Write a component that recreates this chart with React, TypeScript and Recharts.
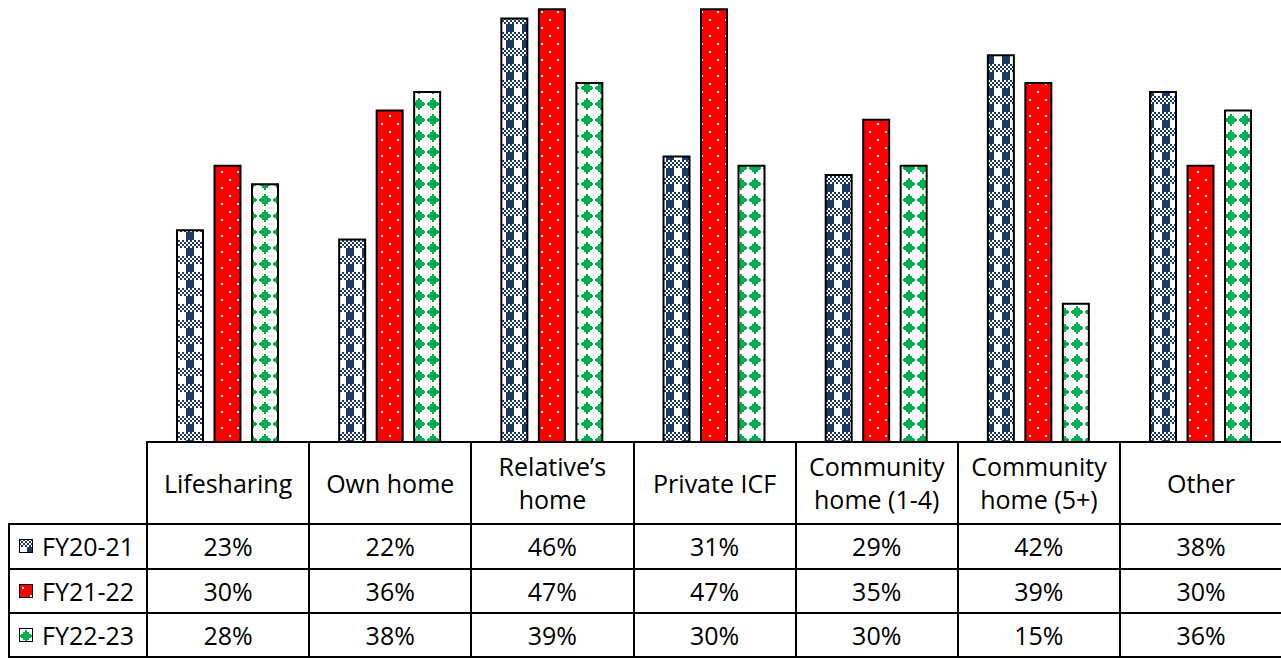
import React from 'react';
import { BarChart, Bar, XAxis, YAxis } from 'recharts';

// Residential setting categories and the share of each fiscal year
const categories = [
  'Lifesharing',
  'Own home',
  'Relative’s home',
  'Private ICF',
  'Community home (1-4)',
  'Community home (5+)',
  'Other',
];
const seriesNames = ['FY20-21', 'FY21-22', 'FY22-23'];
const fy2021 = [23, 22, 46, 31, 29, 42, 38];
const fy2122 = [30, 36, 47, 47, 35, 39, 30];
const fy2223 = [28, 38, 39, 30, 30, 15, 36];

const seriesValues = [fy2021, fy2122, fy2223];
const seriesKeys = ['fy2021', 'fy2122', 'fy2223'];
const patternIds = ['plaidNavy', 'dotsRed', 'diamondGreen'];

const NAVY = '#1F3864';
const RED = '#FF0000';
const GREEN = '#00B050';
const FONT = '"Open Sans", "Noto Sans", sans-serif';
const FONT_SIZE = 25;

const data = categories.map((category, i) => {
  const row: Record<string, string | number> = { category };
  seriesKeys.forEach((key, s) => {
    row[key] = seriesValues[s][i];
  });
  return row;
});

// table geometry
const TABLE_LEFT = 147;
const COL_W = 162.17;
const RIGHT = 1281;
const LABEL_LEFT = 9;
const HEADER_TOP = 442;
const HEADER_H = 82;
const ROW_H = 44.5;
const CHART_W = COL_W * categories.length;

const PatternDefs: React.FC = () => {
  const checks: React.ReactElement[] = [];
  for (let r = 0; r < 4; r++) {
    for (let c = 0; c < 8; c++) {
      if ((r + c) % 2 === 0) {
        checks.push(<rect key={`${r}-${c}`} x={c * 2} y={r * 2} width={2} height={2} fill={NAVY} />);
      }
    }
  }
  return (
    <svg width={0} height={0} style={{ position: 'absolute' }}>
      <defs>
        <pattern id={patternIds[0]} width={16} height={16} patternUnits="userSpaceOnUse">
          <rect width={16} height={16} fill="#fff" />
          {checks}
          <rect x={8} y={8} width={8} height={8} fill={NAVY} />
        </pattern>
        <pattern id={patternIds[1]} width={16} height={16} patternUnits="userSpaceOnUse">
          <rect width={16} height={16} fill={RED} />
          <rect x={3} y={3} width={2} height={2} fill="#fff" />
          <rect x={11} y={11} width={2} height={2} fill="#fff" />
        </pattern>
        <pattern id={patternIds[2]} width={14} height={16} patternUnits="userSpaceOnUse">
          <rect width={14} height={16} fill="#fff" />
          <rect x={6} y={2} width={2} height={12} fill={GREEN} />
          <rect x={4} y={4} width={6} height={8} fill={GREEN} />
          <rect x={2} y={6} width={10} height={4} fill={GREEN} />
          <rect x={1} y={7} width={12} height={2} fill={GREEN} />
        </pattern>
      </defs>
    </svg>
  );
};

const HLine: React.FC<{ y: number; x1: number; x2: number }> = ({ y, x1, x2 }) => (
  <div style={{ position: 'absolute', left: x1 - 1, top: y - 1, width: x2 - x1 + 2, height: 2, background: '#000' }} />
);

const VLine: React.FC<{ x: number; y1: number; y2: number }> = ({ x, y1, y2 }) => (
  <div style={{ position: 'absolute', left: x - 1, top: y1 - 1, width: 2, height: y2 - y1 + 2, background: '#000' }} />
);

const App: React.FC = () => {
  const rowTops = seriesNames.map((_, i) => HEADER_TOP + HEADER_H + i * ROW_H);
  const bottom = HEADER_TOP + HEADER_H + seriesNames.length * ROW_H;

  return (
    <div
      style={{
        position: 'absolute',
        left: 0,
        top: 0,
        width: 1281,
        height: 658,
        background: '#fff',
        overflow: 'hidden',
        fontFamily: FONT,
        color: '#000',
      }}
    >
      <PatternDefs />

      <div style={{ position: 'absolute', left: TABLE_LEFT - 1, top: 0 }}>
        <BarChart
          width={CHART_W}
          height={HEADER_TOP}
          data={data}
          margin={{ top: 0, right: 0, bottom: 0, left: 0 }}
          barGap={11.5}
        >
          <XAxis dataKey="category" hide />
          <YAxis hide domain={[0, 48]} />
          {seriesKeys.map((key, s) => (
            <Bar
              key={key}
              dataKey={key}
              name={seriesNames[s]}
              barSize={26}
              fill={`url(#${patternIds[s]})`}
              stroke="#000"
              strokeWidth={2}
              isAnimationActive={false}
            />
          ))}
        </BarChart>
      </div>

      {/* data table: header row */}
      {categories.map((c, i) => (
        <div
          key={c}
          style={{
            position: 'absolute',
            left: TABLE_LEFT + i * COL_W,
            top: HEADER_TOP,
            width: COL_W,
            height: HEADER_H,
            display: 'flex',
            alignItems: 'center',
            justifyContent: 'center',
            textAlign: 'center',
            fontSize: FONT_SIZE,
            lineHeight: '33px',
            padding: '0 10px',
            boxSizing: 'border-box',
          }}
        >
          {c}
        </div>
      ))}

      {/* data table: series rows */}
      {seriesNames.map((name, s) => (
        <React.Fragment key={name}>
          <div
            style={{
              position: 'absolute',
              left: LABEL_LEFT,
              top: rowTops[s],
              width: TABLE_LEFT - LABEL_LEFT,
              height: ROW_H,
              display: 'flex',
              alignItems: 'center',
              fontSize: FONT_SIZE,
            }}
          >
            <svg width={14} height={14} style={{ marginLeft: 10, marginRight: 9 }}>
              <rect x={0.5} y={0.5} width={13} height={13} fill={`url(#${patternIds[s]})`} stroke="#000" strokeWidth={1} />
            </svg>
            <span>{name}</span>
          </div>
          {seriesValues[s].map((v, i) => (
            <div
              key={i}
              style={{
                position: 'absolute',
                left: TABLE_LEFT + i * COL_W,
                top: rowTops[s],
                width: COL_W,
                height: ROW_H,
                display: 'flex',
                alignItems: 'center',
                justifyContent: 'center',
                fontSize: FONT_SIZE,
              }}
            >
              {`${v}%`}
            </div>
          ))}
        </React.Fragment>
      ))}

      {/* grid lines */}
      <HLine y={HEADER_TOP} x1={TABLE_LEFT} x2={RIGHT + 2} />
      {rowTops.map((y) => (
        <HLine key={y} y={y} x1={LABEL_LEFT} x2={RIGHT + 2} />
      ))}
      <HLine y={bottom - 1} x1={LABEL_LEFT} x2={RIGHT + 2} />
      <VLine x={LABEL_LEFT} y1={rowTops[0]} y2={bottom} />
      {categories.map((c, i) => (
        <VLine key={c} x={TABLE_LEFT + i * COL_W} y1={HEADER_TOP} y2={bottom} />
      ))}
    </div>
  );
};

export default App;
